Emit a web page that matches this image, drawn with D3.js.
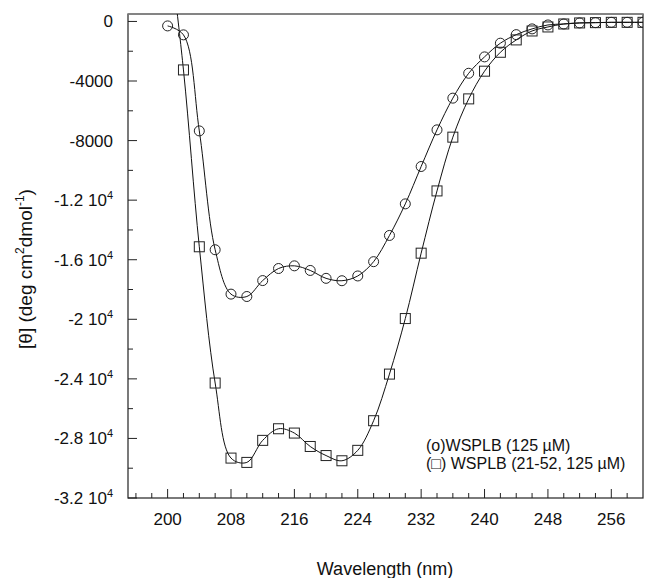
<!DOCTYPE html>
<html>
<head>
<meta charset="utf-8">
<script src="https://cdn.jsdelivr.net/npm/d3@7"></script>
<style>
body { margin: 0; background: #fff; }
text { font-family: "Liberation Sans", Arial, sans-serif; fill: #111; }
</style>
</head>
<body>
<svg id="chart" width="645" height="578"></svg>
<script>
// wavelengths (nm) and molar ellipticity values
var wavelengths = [200, 202, 204, 206, 208, 210, 212, 214, 216, 218, 220, 222, 224, 226, 228, 230,
	232, 234, 236, 238, 240, 242, 244, 246, 248, 250, 252, 254, 256, 258, 260];
var wsplb = [-300, -900, -7350, -15330, -18310, -18470, -17400, -16590, -16410, -16720, -17250, -17410,
	-17090, -16130, -14370, -12250, -9740, -7280, -5150, -3480, -2380, -1460, -885, -500, -235, -170,
	-100, -80, -60, -60, -60];
var wsplb2152 = [6000, -3255, -15130, -24280, -29320, -29610, -28130, -27350, -27640, -28540, -29150, -29500,
	-28800, -26810, -23680, -19950, -15560, -11380, -7770, -5200, -3340, -2070, -1240, -640, -370, -170,
	-100, -80, -60, -60, -60];
var xTicks = [200, 208, 216, 224, 232, 240, 248, 256];
var yTicks = [0, -4000, -8000, -12000, -16000, -20000, -24000, -28000, -32000];
var yTickLabels = ["0", "-4000", "-8000", "-1.2 10^4", "-1.6 10^4", "-2 10^4", "-2.4 10^4", "-2.8 10^4", "-3.2 10^4"];
var legendLabels = ["(o)WSPLB (125 \u00b5M)", "(\u25a1) WSPLB (21-52, 125 \u00b5M)"];

var svg = d3.select("#chart");
var plotLeft = 128, plotRight = 643, plotTop = 14, plotBottom = 498;

var x = d3.scaleLinear().domain([195, 260]).range([plotLeft, plotRight]);
var y = d3.scaleLinear().domain([-32000, 500]).range([plotBottom, plotTop]);

svg.append("clipPath").attr("id", "plotclip").append("rect")
	.attr("x", plotLeft).attr("y", plotTop).attr("width", plotRight - plotLeft).attr("height", plotBottom - plotTop);

// frame (top edge is lighter in the scan)
svg.append("rect").attr("x", plotLeft).attr("y", plotTop).attr("width", plotRight - plotLeft).attr("height", plotBottom - plotTop)
	.attr("fill", "none").attr("stroke", "#222").attr("stroke-width", 1.2);
svg.append("line").attr("x1", plotLeft).attr("x2", plotRight).attr("y1", plotTop).attr("y2", plotTop)
	.attr("stroke", "#888").attr("stroke-width", 1.4);

// x axis ticks (inward)
var xMinor = d3.range(196, 260, 2);
svg.append("g").selectAll("line").data(xMinor).enter().append("line")
	.attr("x1", function(d){ return x(d); }).attr("x2", function(d){ return x(d); })
	.attr("y1", plotBottom).attr("y2", function(d){ return xTicks.indexOf(d) >= 0 ? plotBottom - 9 : plotBottom - 5; })
	.attr("stroke", "#222").attr("stroke-width", 1);
svg.append("g").selectAll("text").data(xTicks).enter().append("text")
	.attr("x", function(d){ return x(d); }).attr("y", 525)
	.attr("text-anchor", "middle").style("font-size", "17px")
	.text(function(d){ return d; });

// y axis ticks (inward)
var yMinor = d3.range(-32000, 1, 2000);
svg.append("g").selectAll("line").data(yMinor).enter().append("line")
	.attr("y1", function(d){ return y(d); }).attr("y2", function(d){ return y(d); })
	.attr("x1", plotLeft).attr("x2", function(d){ return d % 4000 === 0 ? plotLeft + 9 : plotLeft + 5; })
	.attr("stroke", "#222").attr("stroke-width", 1);

var yLab = svg.append("g").selectAll("text").data(yTicks).enter().append("text")
	.attr("x", 113).attr("y", function(d){ return y(d) + 6; })
	.attr("text-anchor", "end").style("font-size", "17px");
yLab.each(function(d, i){
	var parts = yTickLabels[i].split("^");
	var t = d3.select(this);
	t.append("tspan").text(parts[0]);
	if (parts.length > 1) {
		t.append("tspan").attr("dy", -7).style("font-size", "11px").text(parts[1]);
	}
});

// axis titles
svg.append("text").attr("x", 385).attr("y", 575).attr("text-anchor", "middle")
	.style("font-size", "18px").text("Wavelength (nm)");

var yTitle = svg.append("text").attr("transform", "translate(32,269) rotate(-90)")
	.attr("text-anchor", "middle").style("font-size", "19px");
yTitle.append("tspan").text("[\u03b8] (deg cm");
yTitle.append("tspan").attr("dy", -8).style("font-size", "12px").text("2");
yTitle.append("tspan").attr("dy", 8).text("dmol");
yTitle.append("tspan").attr("dy", -8).style("font-size", "12px").text("-1");
yTitle.append("tspan").attr("dy", 8).text(")");

// curves
var plot = svg.append("g").attr("clip-path", "url(#plotclip)");
var line = d3.line().curve(d3.curveCatmullRom)
	.x(function(d){ return x(d[0]); }).y(function(d){ return y(d[1]); });

var circleData = wavelengths.map(function(w, i){ return [w, wsplb[i]]; });
var squareData = wavelengths.map(function(w, i){ return [w, wsplb2152[i]]; });

plot.append("path").datum(circleData).attr("d", line)
	.attr("fill", "none").attr("stroke", "#111").attr("stroke-width", 1);
plot.append("path").datum(squareData).attr("d", line)
	.attr("fill", "none").attr("stroke", "#111").attr("stroke-width", 1);

plot.selectAll("circle.pt").data(circleData).enter().append("circle")
	.attr("class", "pt")
	.attr("cx", function(d){ return x(d[0]); }).attr("cy", function(d){ return y(d[1]); })
	.attr("r", 5).attr("fill", "none").attr("stroke", "#222").attr("stroke-width", 1);

plot.selectAll("rect.pt").data(squareData).enter().append("rect")
	.attr("class", "pt")
	.attr("x", function(d){ return x(d[0]) - 5; }).attr("y", function(d){ return y(d[1]) - 5; })
	.attr("width", 10).attr("height", 10)
	.attr("fill", "none").attr("stroke", "#222").attr("stroke-width", 1);

// legend
svg.append("g").selectAll("text").data(legendLabels).enter().append("text")
	.attr("x", 426).attr("y", function(d, i){ return 451 + i * 18; })
	.style("font-size", "16px")
	.text(function(d){ return d; });
</script>
</body>
</html>
